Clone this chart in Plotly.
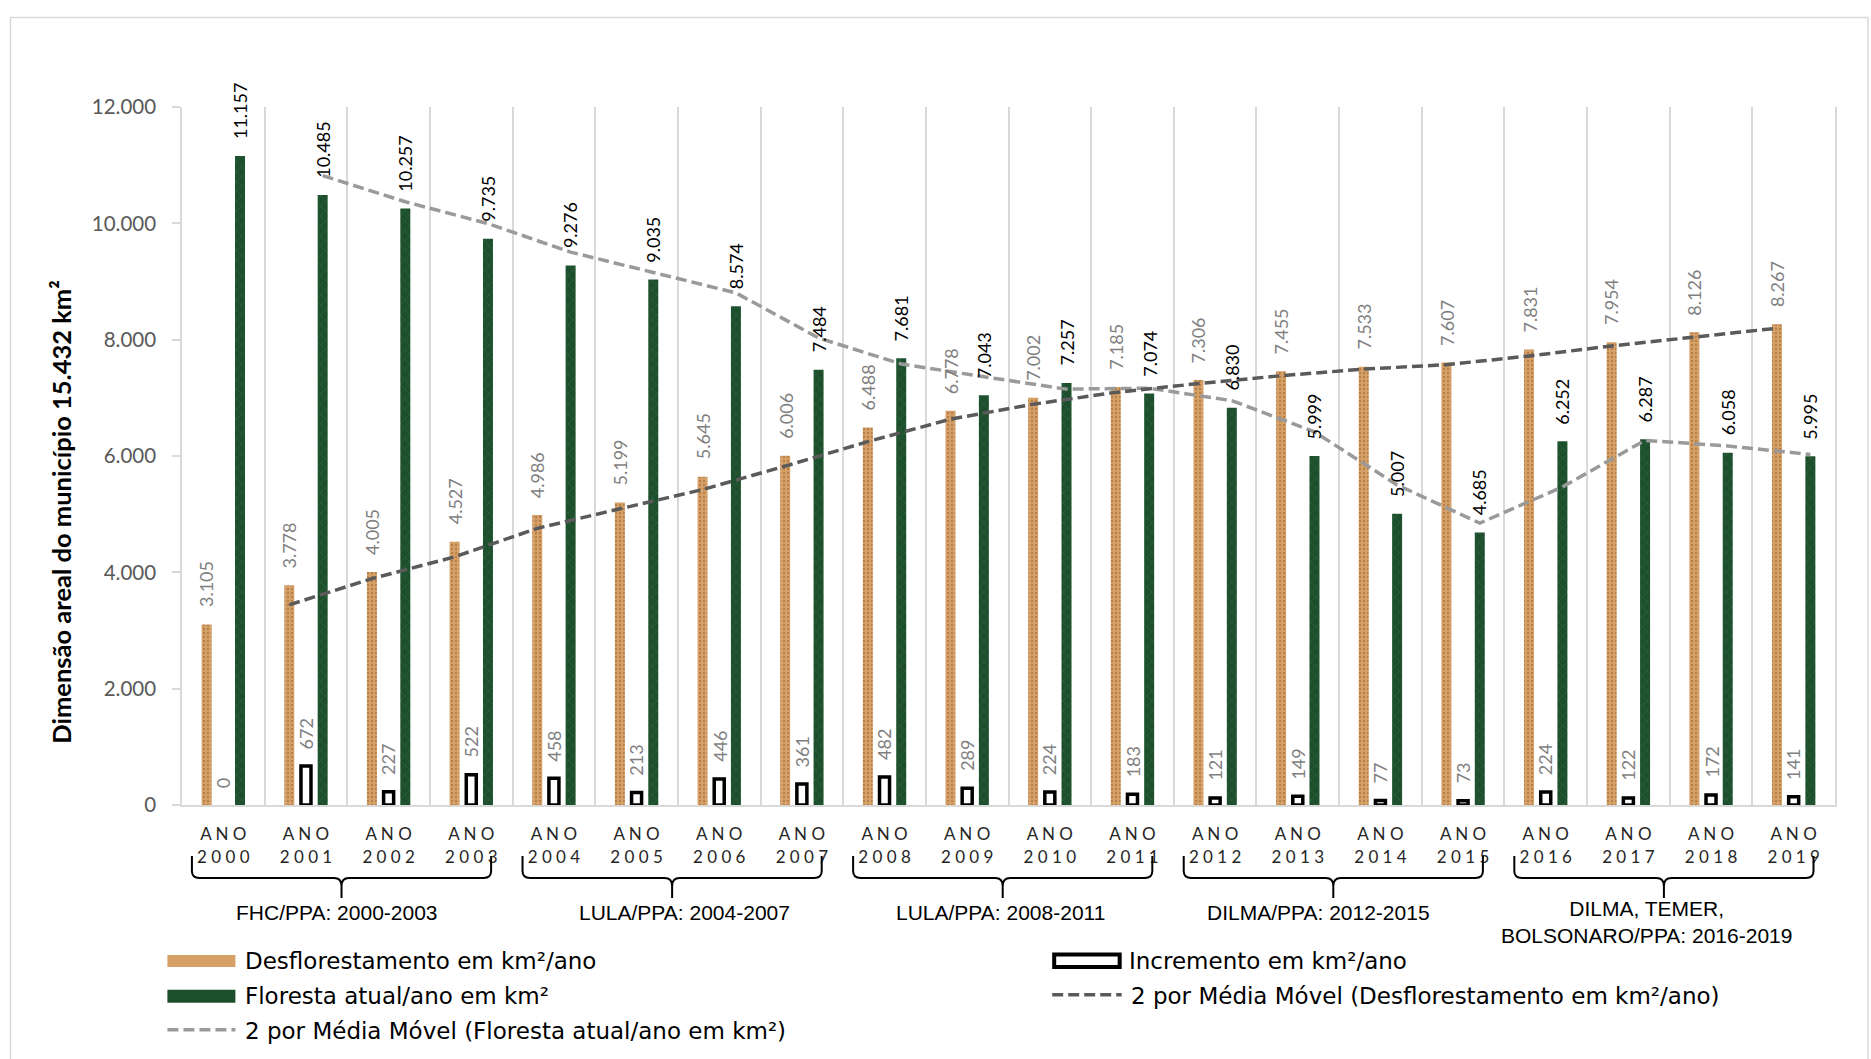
import plotly.graph_objects as go

# ---- dados ----
anos = list(range(2000, 2020))
desflorestamento = [3105, 3778, 4005, 4527, 4986, 5199, 5645, 6006, 6488, 6778,
                    7002, 7185, 7306, 7455, 7533, 7607, 7831, 7954, 8126, 8267]
incremento = [0, 672, 227, 522, 458, 213, 446, 361, 482, 289,
              224, 183, 121, 149, 77, 73, 224, 122, 172, 141]
floresta = [11157, 10485, 10257, 9735, 9276, 9035, 8574, 7484, 7681, 7043,
            7257, 7074, 6830, 5999, 5007, 4685, 6252, 6287, 6058, 5995]
rotulos_x = ["A N O<br>" + " ".join(str(a)) for a in anos]
grupos = ["FHC/PPA: 2000-2003", "LULA/PPA: 2004-2007", "LULA/PPA: 2008-2011",
          "DILMA/PPA: 2012-2015", "DILMA, TEMER,<br>BOLSONARO/PPA: 2016-2019"]
inicio_grupos = [0, 4, 8, 12, 16]

nome_desf = "Desflorestamento em km²/ano"
nome_inc = "Incremento em km²/ano"
nome_flo = "Floresta atual/ano em km²"
nome_ma_flo = "2 por Média Móvel (Floresta atual/ano em km²)"
nome_ma_desf = "2 por Média Móvel (Desflorestamento em km²/ano)"
titulo_y = "Dimensão areal do município 15.432 km²"

# ---- geometria da página ----
W, H = 1871, 1059
L, R, T, B = 181.6, 1835.0, 106.5, 805.0

# deslocamento horizontal de cada caixa de texto dos períodos (em categorias)
desloc_rotulo_grupo = [1.38, 1.58, 1.40, 1.25, 1.22]


def px(x):
    return (x - L) / (R - L)


def py(y):
    return (B - y) / (B - T)


def fmt(v):
    return f"{v:,}".replace(",", ".")


pos = list(range(len(anos)))
BW = 0.121   # largura de cada barra (unidades de categoria)
DX = 0.202   # deslocamento entre séries dentro da categoria

C_DESF = "#D6A066"
C_DESF_FG = "#8E5B2E"
C_FLO = "#1D4F2D"
C_FLO_FG = "#4A8A5E"
C_MA_FLO = "#9A9A9A"
C_MA_DESF = "#5A5A5A"
GRID = "#D9D9D9"
DASH = "11px,5px"

fig = go.Figure()

fig.add_trace(go.Bar(
    x=pos, y=desflorestamento, name=nome_desf, width=BW, offset=-DX - BW / 2,
    marker=dict(color=C_DESF, line=dict(width=0),
                pattern=dict(shape=".", fgcolor=C_DESF_FG, bgcolor=C_DESF,
                             size=4, solidity=0.25)),
    showlegend=False))
fig.add_trace(go.Bar(
    x=pos, y=incremento, name=nome_inc, width=BW, offset=-BW / 2,
    marker=dict(color="white",
                line=dict(color="black", width=[3.5 if v > 0 else 0 for v in incremento])),
    showlegend=False))
fig.add_trace(go.Bar(
    x=pos, y=floresta, name=nome_flo, width=BW, offset=DX - BW / 2,
    marker=dict(color=C_FLO, line=dict(width=0),
                pattern=dict(shape="x", fgcolor=C_FLO_FG, bgcolor=C_FLO,
                             size=7, solidity=0.12)),
    showlegend=False))

# médias móveis de 2 períodos
ma_flo = [(a + b) / 2 for a, b in zip(floresta[:-1], floresta[1:])]
ma_desf = [(a + b) / 2 for a, b in zip(desflorestamento[:-1], desflorestamento[1:])]
fig.add_trace(go.Scatter(
    x=[i + DX for i in pos[1:]], y=ma_flo, mode="lines", name=nome_ma_flo,
    line=dict(color=C_MA_FLO, width=3.5, dash=DASH), showlegend=False))
fig.add_trace(go.Scatter(
    x=[i - DX for i in pos[1:]], y=ma_desf, mode="lines", name=nome_ma_desf,
    line=dict(color=C_MA_DESF, width=3.5, dash=DASH), showlegend=False))

annotations = []
shapes = []

# rótulos de valores (verticais, acima das barras)
lab_font_grey = dict(family="Lato", size=18, color="#7F7F7F")
lab_font_black = dict(family="Lato", size=18, color="#000000")
for serie, off, fnt in ((desflorestamento, -DX, lab_font_grey),
                        (incremento, 0.0, lab_font_grey),
                        (floresta, DX, lab_font_black)):
    for i, v in zip(pos, serie):
        annotations.append(dict(
            x=i + off, y=v, xref="x", yref="y", text=fmt(v), textangle=-90,
            showarrow=False, xanchor="center", yanchor="bottom", yshift=15,
            font=fnt))

# chaves e rótulos dos períodos
y_top, y_mid, y_bar, y_tip = py(856), py(871), py(878), py(898)
r = 0.09
for i0, txt, dx in zip(inicio_grupos, grupos, desloc_rotulo_grupo):
    xl, xc, xr = i0 - 0.38, i0 + 1.43, i0 + 3.24
    path = (f"M {xl},{y_top} L {xl},{y_mid} Q {xl},{y_bar} {xl + r},{y_bar} "
            f"L {xc - r},{y_bar} Q {xc},{y_bar} {xc},{py(886)} L {xc},{y_tip} "
            f"M {xc},{py(886)} Q {xc},{y_bar} {xc + r},{y_bar} "
            f"L {xr - r},{y_bar} Q {xr},{y_bar} {xr},{y_mid} L {xr},{y_top}")
    shapes.append(dict(type="path", path=path, xref="x", yref="paper",
                       line=dict(color="#000000", width=2)))
    two = "<br>" in txt
    annotations.append(dict(
        x=i0 + dx, y=py(922.5 if two else 913), xref="x", yref="paper",
        text=txt, showarrow=False, xanchor="center", yanchor="middle",
        font=dict(family="Liberation Sans, Arial", size=21, color="#000000")))

# título do eixo y
annotations.append(dict(
    x=px(61), y=py(512), xref="paper", yref="paper", text=f"<b>{titulo_y}</b>",
    textangle=-90, showarrow=False, xanchor="center", yanchor="middle",
    font=dict(family="Lato", size=25.5, color="#000000")))

# legenda
leg_font = dict(family="DejaVu Sans", size=23, color="#000000")
leg_items = [
    ("rect", C_DESF, None, 167, 235, 955, 967, 961, nome_desf),
    ("rect", C_FLO, None, 167, 235, 990, 1003, 996, nome_flo),
    ("line", C_MA_FLO, None, 167, 235, 1030, 1030, 1031, nome_ma_flo),
    ("box", "white", "black", 1054, 1119.5, 954.5, 967, 961, nome_inc),
    ("line", C_MA_DESF, None, 1052, 1121.5, 995, 995, 996, nome_ma_desf),
]
for kind, col, lcol, x0, x1, y0, y1, yt, txt in leg_items:
    if kind == "rect":
        shapes.append(dict(type="rect", xref="paper", yref="paper",
                           x0=px(x0), x1=px(x1), y0=py(y1), y1=py(y0),
                           fillcolor=col, line=dict(width=0)))
    elif kind == "box":
        shapes.append(dict(type="rect", xref="paper", yref="paper",
                           x0=px(x0), x1=px(x1), y0=py(y1), y1=py(y0),
                           fillcolor=col, line=dict(color=lcol, width=4)))
    else:
        shapes.append(dict(type="line", xref="paper", yref="paper",
                           x0=px(x0), x1=px(x1), y0=py(y0), y1=py(y1),
                           line=dict(color=col, width=3.5, dash=DASH)))
    annotations.append(dict(
        x=px(x1 + 7.5), y=py(yt), xref="paper", yref="paper", text=txt,
        showarrow=False, xanchor="left", yanchor="middle", font=leg_font))

# moldura do gráfico
shapes.append(dict(type="rect", xref="paper", yref="paper",
                   x0=px(10), x1=px(1868), y0=py(1075), y1=py(17),
                   line=dict(color=GRID, width=1.5), fillcolor="rgba(0,0,0,0)",
                   layer="below"))

fig.update_layout(
    width=W, height=H,
    margin=dict(l=L, r=W - R, t=T, b=H - B, pad=0),
    paper_bgcolor="white", plot_bgcolor="white",
    barmode="overlay", separators=",.",
    showlegend=False,
    font=dict(family="Lato", color="#000000"),
    xaxis=dict(
        range=[-0.5, len(anos) - 0.5], tickmode="array", tickvals=pos,
        ticktext=rotulos_x, showgrid=False, zeroline=False,
        showline=True, linecolor=GRID, linewidth=2, ticks="",
        ticklabelstandoff=13,
        tickfont=dict(family="Lato", size=17, color="#262626"),
        minor=dict(tickmode="array", tickvals=[i - 0.5 for i in range(len(anos) + 1)],
                   showgrid=True, gridcolor=GRID, gridwidth=1.5, ticks=""),
    ),
    yaxis=dict(
        range=[0, 12000], tickmode="array", tickvals=list(range(0, 12001, 2000)),
        tickformat=",d", showgrid=False, zeroline=False,
        showline=True, linecolor=GRID, linewidth=1.5, mirror=True,
        ticks="outside", ticklen=8, tickcolor=GRID, tickwidth=1.5,
        ticklabelstandoff=12,
        tickfont=dict(family="Lato", size=20.5, color="#595959"),
    ),
    annotations=annotations,
    shapes=shapes,
)

fig.write_html("out.html")
